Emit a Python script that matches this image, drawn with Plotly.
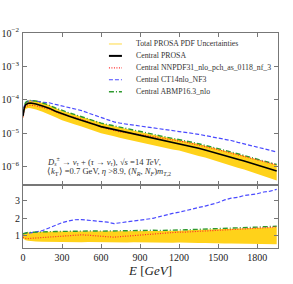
import plotly.graph_objects as go

# ---------------- data ----------------
energy = [0, 10, 20, 40, 60, 80, 100, 150, 200, 250, 300, 350, 400, 450, 500, 550,
          600, 650, 700, 750, 800, 850, 900, 950, 1000, 1050, 1100, 1150, 1200, 1250,
          1300, 1350, 1400, 1450, 1500, 1550, 1600, 1650, 1700, 1750, 1800, 1850,
          1900, 1950]

central_prosa = [3.3e-5, 5.8e-5, 7.2e-5, 8.0e-5, 8.1e-5, 7.9e-5, 7.6e-5, 6.6e-5,
                 5.7e-5, 4.6e-5, 3.8e-5, 3.3e-5, 2.85e-5, 2.5e-5, 2.15e-5, 1.85e-5,
                 1.6e-5, 1.45e-5, 1.3e-5, 1.15e-5, 1.05e-5, 9.5e-6, 8.7e-6, 7.9e-6,
                 7.2e-6, 6.5e-6, 5.9e-6, 5.4e-6, 5.0e-6, 4.5e-6, 4.0e-6, 3.6e-6,
                 3.2e-6, 2.85e-6, 2.5e-6, 2.2e-6, 1.95e-6, 1.7e-6, 1.5e-6, 1.3e-6,
                 1.15e-6, 1.0e-6, 8.8e-7, 7.6e-7]

ratio_nnpdf = [0.92, 0.88, 0.86, 0.85, 0.86, 0.87, 0.88, 0.90, 0.93, 0.96, 0.98, 1.02,
               1.05, 1.06, 1.04, 1.00, 0.97, 0.95, 0.93, 0.96, 1.00, 1.05, 1.08, 1.10,
               1.12, 1.15, 1.17, 1.20, 1.22, 1.22, 1.24, 1.26, 1.27, 1.28, 1.30, 1.32,
               1.33, 1.36, 1.38, 1.40, 1.42, 1.45, 1.48, 1.52]

ratio_ct14 = [1.12, 1.15, 1.15, 1.15, 1.17, 1.20, 1.22, 1.30, 1.45, 1.60, 1.75, 1.85,
              1.92, 1.93, 1.90, 1.88, 1.85, 1.78, 1.70, 1.75, 1.80, 1.85, 1.90, 1.95,
              2.00, 2.10, 2.20, 2.28, 2.35, 2.45, 2.55, 2.62, 2.70, 2.80, 2.90, 3.05,
              3.15, 3.20, 3.30, 3.35, 3.40, 3.50, 3.55, 3.65]

ratio_abmp = [1.12, 1.15, 1.17, 1.20, 1.20, 1.21, 1.22, 1.23, 1.24, 1.25, 1.26, 1.27,
              1.28, 1.28, 1.27, 1.28, 1.27, 1.28, 1.29, 1.30, 1.29, 1.30, 1.31, 1.31,
              1.32, 1.31, 1.33, 1.33, 1.34, 1.35, 1.36, 1.37, 1.39, 1.40, 1.42, 1.43,
              1.44, 1.46, 1.47, 1.49, 1.50, 1.52, 1.53, 1.55]

band_low = [0.85, 0.80, 0.75, 0.72, 0.70, 0.69, 0.68, 0.67, 0.66, 0.66, 0.65, 0.66,
            0.65, 0.64, 0.65, 0.64, 0.63, 0.64, 0.63, 0.64, 0.63, 0.64, 0.63, 0.62,
            0.63, 0.62, 0.62, 0.61, 0.62, 0.60, 0.60, 0.59, 0.60, 0.58, 0.58, 0.57,
            0.57, 0.56, 0.56, 0.55, 0.55, 0.54, 0.53, 0.52]

band_high = [1.10, 1.15, 1.18, 1.20, 1.21, 1.22, 1.22, 1.23, 1.24, 1.25, 1.25, 1.26,
             1.27, 1.26, 1.27, 1.26, 1.27, 1.26, 1.27, 1.28, 1.27, 1.28, 1.27, 1.28,
             1.29, 1.28, 1.30, 1.29, 1.30, 1.32, 1.33, 1.34, 1.35, 1.36, 1.38, 1.39,
             1.40, 1.41, 1.43, 1.44, 1.45, 1.47, 1.48, 1.50]

legend_labels = ["Total PROSA PDF Uncertainties", "Central PROSA",
                 "Central NNPDF31_nlo_pch_as_0118_nf_3", "Central CT14nlo_NF3",
                 "Central ABMP16.3_nlo"]

x_ticks = [0, 300, 600, 900, 1200, 1500, 1800]
y_top_ticks = [1e-6, 1e-5, 1e-4, 1e-3, 1e-2]
y_top_text = ["10<sup>−6</sup>", "10<sup>−5</sup>", "10<sup>−4</sup>",
              "10<sup>−3</sup>", "10<sup>−2</sup>"]
y_bot_ticks = [1, 2, 3]

# ---------------- styles ----------------
YELLOW = "#ffd21a"
YELLOW_LEG = "#ffe88a"
RED = "#ff2a2a"
BLUE = "#4a4aff"
GREEN = "#2e9a2e"
BLACK = "#000000"
FONT = "Liberation Serif"
AXC = "#777777"

nnpdf = [c * r for c, r in zip(central_prosa, ratio_nnpdf)]
ct14 = [c * r for c, r in zip(central_prosa, ratio_ct14)]
abmp = [c * r for c, r in zip(central_prosa, ratio_abmp)]
low = [c * r for c, r in zip(central_prosa, band_low)]
high = [c * r for c, r in zip(central_prosa, band_high)]

fig = go.Figure()

# top panel
fig.add_trace(go.Scatter(x=energy, y=low, mode="lines", line=dict(width=0, color=YELLOW),
                         showlegend=False, hoverinfo="skip", xaxis="x", yaxis="y"))
fig.add_trace(go.Scatter(x=energy, y=high, mode="lines", line=dict(width=0, color=YELLOW),
                         fill="tonexty", fillcolor=YELLOW, name=legend_labels[0],
                         showlegend=False, xaxis="x", yaxis="y"))
fig.add_trace(go.Scatter(x=energy, y=ct14, mode="lines",
                         line=dict(color=BLUE, width=1.2, dash="4px,2px"),
                         name=legend_labels[3], showlegend=False, xaxis="x", yaxis="y"))
fig.add_trace(go.Scatter(x=energy, y=abmp, mode="lines",
                         line=dict(color=GREEN, width=1.4, dash="5px,2px,1px,2px"),
                         name=legend_labels[4], showlegend=False, xaxis="x", yaxis="y"))
fig.add_trace(go.Scatter(x=energy, y=nnpdf, mode="lines",
                         line=dict(color=RED, width=1.2, dash="1px,1.5px"),
                         name=legend_labels[2], showlegend=False, xaxis="x", yaxis="y"))
fig.add_trace(go.Scatter(x=energy, y=central_prosa, mode="lines",
                         line=dict(color=BLACK, width=1.6),
                         name=legend_labels[1], showlegend=False, xaxis="x", yaxis="y"))

# bottom panel (ratios to central PROSA)
fig.add_trace(go.Scatter(x=energy, y=band_low, mode="lines", line=dict(width=0, color=YELLOW),
                         showlegend=False, hoverinfo="skip", xaxis="x2", yaxis="y2"))
fig.add_trace(go.Scatter(x=energy, y=band_high, mode="lines", line=dict(width=0, color=YELLOW),
                         fill="tonexty", fillcolor=YELLOW, showlegend=False,
                         xaxis="x2", yaxis="y2"))
fig.add_trace(go.Scatter(x=energy, y=ratio_ct14, mode="lines",
                         line=dict(color=BLUE, width=1.2, dash="4px,2px"),
                         showlegend=False, xaxis="x2", yaxis="y2"))
fig.add_trace(go.Scatter(x=energy, y=ratio_abmp, mode="lines",
                         line=dict(color=GREEN, width=1.4, dash="5px,2px,1px,2px"),
                         showlegend=False, xaxis="x2", yaxis="y2"))
fig.add_trace(go.Scatter(x=energy, y=ratio_nnpdf, mode="lines",
                         line=dict(color=RED, width=1.2, dash="1px,1.5px"),
                         showlegend=False, xaxis="x2", yaxis="y2"))

axis_common = dict(showline=True, linecolor=AXC, linewidth=1.2, mirror="ticks",
                   ticks="inside", ticklen=4, tickcolor=AXC, showgrid=False,
                   zeroline=False, automargin=False,
                   tickfont=dict(family=FONT, size=10, color="#222"))

split = 0.293
fig.update_layout(
    width=293, height=284,
    margin=dict(l=23, r=15, t=33, b=36),
    paper_bgcolor="white", plot_bgcolor="white",
    font=dict(family=FONT, size=10, color="#222"),
    xaxis=dict(domain=[0, 1], range=[0, 1960], anchor="y", tickvals=x_ticks,
               showticklabels=False, **axis_common),
    yaxis=dict(domain=[split, 1], type="log", range=[-6.54, -2], anchor="x",
               tickvals=y_top_ticks, ticktext=y_top_text, ticklabelstandoff=1,
               **axis_common),
    xaxis2=dict(domain=[0, 1], range=[0, 1960], anchor="y2", tickvals=x_ticks,
                title=dict(text="<i>E</i> [<i>GeV</i>]", font=dict(family=FONT, size=13),
                           standoff=0), **axis_common),
    yaxis2=dict(domain=[0, split], range=[0.31, 3.9], anchor="x2",
                tickvals=y_bot_ticks, **axis_common),
    showlegend=False,
)

# legend (drawn compactly as in the reference)
leg_colors = [YELLOW_LEG, BLACK, RED, BLUE, GREEN]
leg_dash = ["solid", "solid", "1px,1.5px", "4px,2px", "5px,2px,1px,2px"]
leg_width = [1.6, 2.0, 1.2, 1.2, 1.4]
leg_y0 = 0.949
leg_dy = 0.0555
for i, lab in enumerate(legend_labels):
    yy = leg_y0 - i * leg_dy
    fig.add_shape(type="line", xref="paper", yref="paper", x0=0.337, x1=0.388,
                  y0=yy, y1=yy, line=dict(color=leg_colors[i], width=leg_width[i],
                                           dash=leg_dash[i]))
    fig.add_annotation(x=0.435, y=yy, xref="paper", yref="paper", text=lab,
                       showarrow=False, xanchor="left", yanchor="middle",
                       font=dict(family=FONT, size=7.8, color="#333"))

fig.add_annotation(x=0.086, y=0.403, xref="paper", yref="paper", showarrow=False,
                   xanchor="left", yanchor="middle",
                   text="<i>D</i><sub><i>s</i></sub><sup>±</sup> → <i>ν</i><sub><i>τ</i></sub> + (<i>τ</i> → <i>ν</i><sub><i>τ</i></sub>), √<i>s</i> =14 <i>TeV</i>,",
                   font=dict(family=FONT, size=8.6, color="#333"))
fig.add_annotation(x=0.086, y=0.355, xref="paper", yref="paper", showarrow=False,
                   xanchor="left", yanchor="middle",
                   text="⟨<i>k</i><sub>T</sub>⟩ =0.7 GeV, <i>η</i> >8.9, (<i>N</i><sub><i>R</i></sub>, <i>N</i><sub><i>F</i></sub>)<i>m</i><sub><i>T</i>,2</sub>",
                   font=dict(family=FONT, size=8.6, color="#333"))

# remove the default page margin so the figure sits at the window's corner
fig.write_html("out.html", config={"displayModeBar": False},
               post_script="document.body.style.margin='0';")
